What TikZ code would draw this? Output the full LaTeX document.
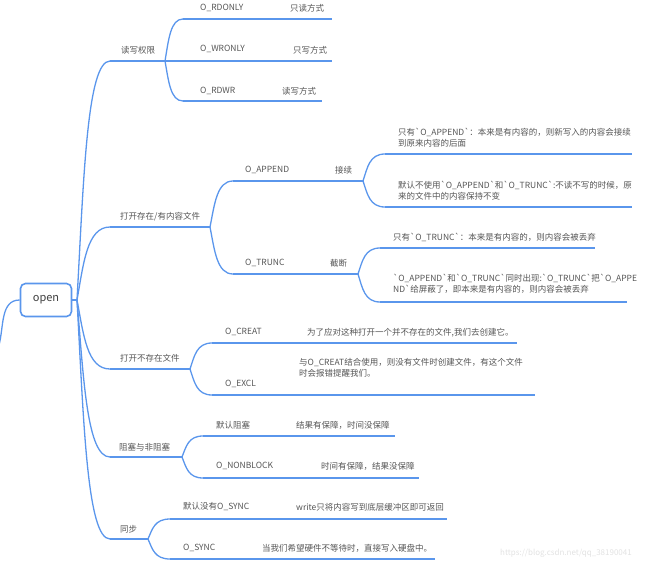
\documentclass[tikz,border=0pt]{standalone}
\usepackage{fontspec}
\setmainfont{Noto Sans CJK SC}[Ligatures=TeXOff]
\usetikzlibrary{calc}

% curved connector of the mind map, parent point -> child point
\newcommand\twig[2]{%
  \draw[link] let \p1=(#1), \p2=(#2) in
    (\p1) .. controls ({\x1+0.2*(\x2-\x1)},{\y1+0.5*(\y2-\y1)})
             and ({\x1+0.3*(\x2-\x1)},\y2) .. (\p2);}

\begin{document}
\begin{tikzpicture}[
    x=1pt, y=-1pt,
    font=\fontsize{8.5}{11}\selectfont,
    link/.style={draw=mmblue, line width=1.3pt},
    topic/.style={text=mmgray, anchor=west, inner sep=0pt, align=left},
    rootbox/.style={draw=mmblue, line width=1.6pt, rounded corners=5pt,
        minimum width=51pt, minimum height=33pt, text=mmdark,
        font=\fontsize{11}{13}\selectfont},
    stamp/.style={text=mmlight, anchor=west, inner sep=0pt,
        font=\fontsize{8}{10}\selectfont}
]

\definecolor{mmblue}{HTML}{5A96EC}
\definecolor{mmgray}{HTML}{555555}
\definecolor{mmdark}{HTML}{404040}
\definecolor{mmlight}{HTML}{E2E2E2}

\useasboundingbox (0,0) rectangle (650,564);

% ==========================================
% 1. ROOT
% ==========================================

\node[rootbox] (open) at (46,300) {open};
\coordinate (o) at (77,300);
\coordinate (lft) at (-1,345);
\draw[link] (open.east) -- (o);
\draw[link] (open.west) to[out=180, in=75] (lft);

% ==========================================
% 2. UNDERLINE POINTS (start / end)
% ==========================================

% first level
\coordinate (rw) at (110,61);    \coordinate (rw-e) at (165,61);
\coordinate (ex) at (110,227);   \coordinate (ex-e) at (210,227);
\coordinate (nx) at (110,369);   \coordinate (nx-e) at (190,369);
\coordinate (bl) at (110,457);   \coordinate (bl-e) at (182,457);
\coordinate (sy) at (110,539);   \coordinate (sy-e) at (148,539);

% second level
\coordinate (rdonly) at (183,19);  \coordinate (rdonly-e) at (332,19);
\coordinate (wronly) at (183,61);  \coordinate (wronly-e) at (332,61);
\coordinate (rdwr) at (183,101);   \coordinate (rdwr-e) at (322,101);
\coordinate (app) at (233,181);    \coordinate (app-e) at (363,181);
\coordinate (trc) at (233,274);    \coordinate (trc-e) at (358,274);
\coordinate (crt) at (212,343);    \coordinate (crt-e) at (517,343);
\coordinate (exc) at (212,395);    \coordinate (exc-e) at (535,395);
\coordinate (blk) at (203,436);    \coordinate (blk-e) at (395,436);
\coordinate (nbl) at (203,478);    \coordinate (nbl-e) at (419,478);
\coordinate (nsy) at (170,519);    \coordinate (nsy-e) at (447,519);
\coordinate (syn) at (170,559);    \coordinate (syn-e) at (435,559);

% third level
\coordinate (a1) at (385,154);     \coordinate (a1-e) at (632,154);
\coordinate (a2) at (385,207);     \coordinate (a2-e) at (632,207);
\coordinate (t1) at (380,248);     \coordinate (t1-e) at (595,248);
\coordinate (t2) at (380,302);     \coordinate (t2-e) at (627,302);

% ==========================================
% 3. CONNECTORS & UNDERLINES
% ==========================================

\foreach \a/\b in {o/rw, o/ex, o/nx, o/bl, o/sy,
    rw-e/rdonly, rw-e/wronly, rw-e/rdwr,
    ex-e/app, ex-e/trc, app-e/a1, app-e/a2, trc-e/t1, trc-e/t2,
    nx-e/crt, nx-e/exc, bl-e/blk, bl-e/nbl, sy-e/nsy, sy-e/syn}
    \twig{\a}{\b};

\foreach \t in {rw, ex, nx, bl, sy, rdonly, wronly, rdwr, app, trc,
    crt, exc, blk, nbl, nsy, syn, a1, a2, t1, t2}
    \draw[link] (\t) -- (\t-e);

% ==========================================
% 4. LABELS
% ==========================================

\node[topic] (rw-t) at (121,50) {读写权限};
\node[topic] (ex-t) at (120,217) {打开存在/有内容文件};
\node[topic] (nx-t) at (120,358) {打开不存在文件};
\node[topic] (bl-t) at (119,447) {阻塞与非阻塞};
\node[topic] (sy-t) at (120,529) {同步};

\node[topic] (rdonly-t) at (200,8) {O\_RDONLY};
\node[topic] (rdonly-d) at (290,8) {只读方式};
\node[topic] (wronly-t) at (200,49) {O\_WRONLY};
\node[topic] (wronly-d) at (293,50) {只写方式};
\node[topic] (rdwr-t) at (200,91) {O\_RDWR};
\node[topic] (rdwr-d) at (282,91) {读写方式};

\node[topic] (app-t) at (245,170) {O\_APPEND};
\node[topic] (app-d) at (335,170) {接续};
\node[topic] (trc-t) at (245,263) {O\_TRUNC};
\node[topic] (trc-d) at (330,263) {截断};

\node[topic] (a1-t) at (398,138) {只有`O\_APPEND`：本来是有内容的，则新写入的内容会接续\\到原来内容的后面};
\node[topic] (a2-t) at (398,190.5) {默认不使用`O\_APPEND`和`O\_TRUNC`:不读不写的时候，原\\来的文件中的内容保持不变};
\node[topic] (t1-t) at (393,237) {只有`O\_TRUNC`：本来是有内容的，则内容会被丢弃};
\node[topic] (t2-t) at (393,284) {`O\_APPEND`和`O\_TRUNC`同时出现:`O\_TRUNC`把`O\_APPE\\ND`给屏蔽了，即本来是有内容的，则内容会被丢弃};

\node[topic] (crt-t) at (225,332) {O\_CREAT};
\node[topic] (crt-d) at (307,333) {为了应对这种打开一个并不存在的文件,我们去创建它。};
\node[topic] (exc-t) at (225,384) {O\_EXCL};
\node[topic] (exc-d) at (299,367.5) {与O\_CREAT结合使用，则没有文件时创建文件，有这个文件\\时会报错提醒我们。};

\node[topic] (blk-t) at (216,425) {默认阻塞};
\node[topic] (blk-d) at (296,425) {结果有保障，时间没保障};
\node[topic] (nbl-t) at (216,466) {O\_NONBLOCK};
\node[topic] (nbl-d) at (321,466) {时间有保障，结果没保障};

\node[topic] (nsy-t) at (183,507) {默认没有O\_SYNC};
\node[topic] (nsy-d) at (296,507) {write只将内容写到底层缓冲区即可返回};
\node[topic] (syn-t) at (183,548) {O\_SYNC};
\node[topic] (syn-d) at (262,548) {当我们希望硬件不等待时，直接写入硬盘中。};

\node[stamp] (wm) at (500,553) {https://blog.csdn.net/qq\_38190041};

\end{tikzpicture}
\end{document}
